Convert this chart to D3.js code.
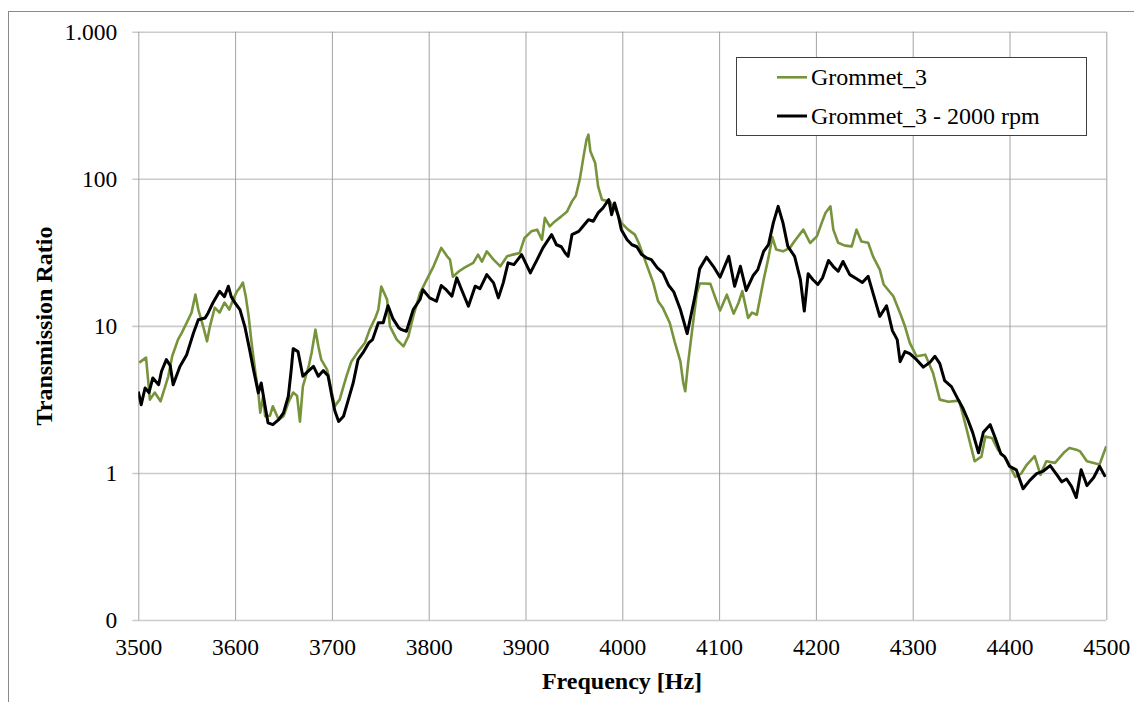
<!DOCTYPE html>
<html>
<head>
<meta charset="utf-8">
<script src="https://cdn.jsdelivr.net/npm/d3@7"></script>
<style>
  body { margin: 0; background: #fff; }
  svg { display: block; }
</style>
</head>
<body>
<svg id="chart" width="1134" height="702"></svg>
<script>
// Transmission ratio vs frequency (log y) — two grommet measurements
// ------------------------------------------------------------------

// Data --------------------------------------------------------------
const seriesNames = ["Grommet_3", "Grommet_3 - 2000 rpm"];

const freqGreen = [3501,3508,3512,3517,3523,3531,3535,3541,3545,3550,
  3555,3559,3562,3567,3571,3574,3579,3584,3589,3594,
  3598,3602,3605,3608,3611,3614,3617,3621,3624,3626,
  3629,3631,3636,3639,3645,3650,3655,3660,3664,3667,
  3670,3676,3679,3683,3686,3689,3695,3700,3703,3708,
  3715,3720,3727,3734,3739,3745,3748,3751,3757,3760,
  3767,3774,3779,3784,3791,3798,3805,3813,3819,3822,
  3825,3831,3837,3846,3851,3855,3860,3867,3874,3881,
  3887,3894,3899,3906,3912,3917,3920,3925,3930,3937,
  3943,3948,3952,3956,3960,3963,3965,3967,3972,3975,
  3979,3987,3994,3999,4006,4013,4017,4022,4027,4032,
  4037,4042,4049,4054,4060,4063,4065,4068,4072,4077,
  4080,4085,4091,4096,4101,4108,4115,4120,4124,4130,
  4134,4139,4146,4151,4155,4159,4166,4173,4179,4187,
  4194,4201,4206,4210,4215,4218,4223,4230,4237,4242,
  4247,4254,4259,4266,4270,4280,4287,4292,4297,4304,
  4313,4321,4328,4337,4348,4354,4361,4364,4371,4375,
  4382,4388,4397,4406,4412,4418,4426,4432,4438,4447,
  4456,4462,4469,4473,4480,4487,4493,4500];

const valGreen = [5.62,6.08,3.15,3.52,3.07,4.54,6.21,8.06,8.99,10.5,
  12.3,16.3,12.9,9.93,7.85,9.93,13.3,12.3,14.4,12.9,
  15.1,17.2,18.2,19.7,15.9,11.6,7.69,4.81,3.52,2.57,
  3.32,2.43,2.45,2.84,2.30,2.43,3.01,3.52,3.35,2.23,
  3.88,5.30,6.54,9.42,7.26,5.89,5.04,3.50,2.84,3.15,
  4.54,5.7,6.68,7.65,9.42,11.4,12.9,18.5,15.1,9.93,
  8.06,7.26,8.48,11.6,16.7,20.6,25.4,33.9,29.7,28.2,
  21.6,23.4,24.9,26.8,30.5,27.3,32.1,28.2,25.4,29.7,
  30.5,31.3,39.6,43.9,45.1,38.5,54.2,47.5,51.1,55.5,
  60.0,70.2,76.7,98.6,142,184,199.5,154,128,88.8,
  72.1,70.2,60.0,50.1,45.1,41.7,36.6,29.7,24.1,19.6,
  14.7,13.2,10.5,7.85,5.74,4.09,3.59,5.60,9.18,16.7,
  19.4,19.4,19.3,15.6,12.7,16.3,12.1,14.3,17.2,11.3,
  12.3,11.9,20.6,29.1,40.1,33.0,32.1,33.9,38.5,45.1,
  36.6,40.6,50.1,58.8,64.9,45.1,36.7,35.1,34.7,45.1,
  37.5,36.7,29.7,24.1,19.1,15.9,12.2,9.93,7.65,6.21,
  6.37,4.78,3.15,3.05,3.10,2.20,1.44,1.20,1.29,1.77,
  1.73,1.44,1.23,0.94,0.99,1.14,1.30,0.97,1.20,1.17,
  1.37,1.48,1.44,1.40,1.20,1.17,1.14,1.52];

const freqBlack = [3500,3503,3507,3511,3515,3521,3524,3529,3533,3536,
  3543,3550,3557,3562,3569,3572,3577,3584,3589,3593,
  3596,3600,3605,3610,3615,3619,3624,3627,3631,3634,
  3639,3645,3650,3655,3658,3660,3665,3670,3675,3681,
  3686,3691,3696,3700,3703,3707,3712,3717,3722,3727,
  3732,3738,3742,3748,3753,3758,3763,3769,3772,3777,
  3784,3791,3794,3801,3808,3813,3818,3824,3829,3834,
  3841,3848,3853,3860,3867,3872,3877,3882,3888,3896,
  3905,3912,3918,3927,3932,3937,3941,3944,3948,3955,
  3959,3965,3970,3975,3980,3986,3989,3992,3996,3999,
  4005,4010,4015,4020,4025,4030,4036,4042,4048,4053,
  4060,4063,4067,4070,4075,4080,4087,4094,4101,4110,
  4116,4122,4128,4135,4140,4146,4151,4156,4161,4166,
  4171,4178,4184,4188,4192,4197,4202,4207,4213,4218,
  4223,4228,4235,4242,4248,4254,4259,4266,4273,4279,
  4284,4287,4292,4297,4304,4311,4318,4323,4328,4333,
  4340,4347,4352,4357,4362,4368,4373,4380,4385,4391,
  4395,4400,4407,4414,4421,4428,4435,4442,4449,4454,
  4459,4464,4469,4474,4480,4487,4493,4499];

const valBlack = [3.57,2.91,3.78,3.52,4.42,3.98,4.91,5.89,5.36,3.98,
  5.30,6.37,8.95,11.0,11.3,12.2,14.3,17.2,15.8,18.6,
  15.8,14.3,12.9,9.93,6.89,5.04,3.50,4.09,2.84,2.19,
  2.13,2.30,2.56,3.32,5.04,7.00,6.68,4.54,4.88,5.30,
  4.54,4.96,4.59,3.32,2.65,2.24,2.43,3.15,4.09,5.89,
  6.54,7.65,8.06,10.5,10.5,13.7,11.2,9.72,9.42,9.18,
  12.9,15.1,17.6,15.5,14.7,18.8,17.6,15.9,21.2,17.6,
  13.6,18.6,17.9,22.3,19.6,15.5,19.6,26.8,26.1,30.5,
  22.9,28.2,33.9,41.7,35.6,34.5,31.3,29.7,41.7,43.9,
  47.2,52.7,51.4,58.6,63.3,72.1,57.0,68.5,55.5,45.1,
  38.5,35.6,34.5,30.5,29.0,28.2,24.9,22.9,18.8,17.1,
  12.9,11.0,8.85,11.0,15.8,24.5,29.3,25.4,21.4,29.7,
  18.6,25.4,17.4,21.9,24.1,32.1,35.6,50.1,64.9,50.1,
  34.7,29.7,20.6,12.6,22.6,20.6,19.1,21.3,27.8,25.3,
  23.5,27.4,22.3,20.9,19.7,21.7,16.7,11.6,13.7,9.28,
  8.06,5.71,6.68,6.47,5.89,5.24,5.67,6.21,5.53,4.24,
  3.86,3.15,2.74,2.30,1.88,1.37,1.89,2.13,1.75,1.35,
  1.29,1.11,1.05,0.78,0.89,0.99,1.03,1.12,0.97,0.87,
  0.91,0.81,0.68,1.05,0.82,0.93,1.11,0.94];

const xTicks      = [3500,3600,3700,3800,3900,4000,4100,4200,4300,4400,4500];
const yTicks      = [0.1, 1, 10, 100, 1000];
const yTickLabels = ["0", "1", "10", "100", "1.000"];

// Layout -------------------------------------------------------------
const FONT = "'Liberation Serif', 'Times New Roman', serif";

const margin = { top: 31.7, left: 138.3 },
      width  = 968,
      height = 588.3;

const svgBase = d3.select("#chart");

// outer frame (only its top/left edges are inside the picture)
svgBase.append("rect")
  .attr("x", 8.5).attr("y", 11.5)
  .attr("width", 1300).attr("height", 900)
  .attr("fill", "none")
  .attr("stroke", "#8a8a8a")
  .attr("stroke-width", 1);

const svg = svgBase.append("g")
  .attr("transform", `translate(${margin.left},${margin.top})`);

// Scales -------------------------------------------------------------
const x = d3.scaleLinear().domain([3500, 4500]).range([0, width]);
const y = d3.scaleLog().domain([0.1, 1000]).range([height, 0]);

// Y axis + horizontal grid ------------------------------------------
const yAxisG = svg.append("g").attr("class", "y-axis")
  .call(d3.axisLeft(y)
    .tickValues(yTicks)
    .tickFormat((d, i) => yTickLabels[i])
    .tickSize(6)
    .tickPadding(15))
  .attr("font-family", FONT)
  .attr("font-size", 23.5);

yAxisG.select(".domain").remove();
yAxisG.selectAll(".tick line")
  .attr("x1", -6).attr("x2", width)
  .attr("stroke", "#cbcbcb")
  .attr("stroke-width", 1.6);
yAxisG.selectAll(".tick text")
  .attr("fill", "#000")
  .style("font-family", FONT)
  .style("font-size", "23.5px");

// X axis + vertical grid --------------------------------------------
const xAxisG = svg.append("g").attr("class", "x-axis")
  .attr("transform", `translate(0,${height})`)
  .call(d3.axisBottom(x)
    .tickValues(xTicks)
    .tickFormat(d3.format("d"))
    .tickSize(-height)
    .tickPadding(18))
  .attr("font-family", FONT)
  .attr("font-size", 23.5);

xAxisG.select(".domain").remove();
xAxisG.selectAll(".tick line")
  .attr("stroke", "#a3a3a3")
  .attr("stroke-width", 1);
xAxisG.selectAll(".tick text")
  .attr("fill", "#000")
  .style("font-family", FONT)
  .style("font-size", "23.5px");

// Lines --------------------------------------------------------------
svg.append("clipPath").attr("id", "plot-clip")
  .append("rect").attr("width", width).attr("height", height);

const line = d3.line()
  .x(d => x(d.f))
  .y(d => y(d.v));

const series = [
  { name: seriesNames[0], color: "#77933c", w: 2.6,
    pts: freqGreen.map((f, i) => ({ f, v: valGreen[i] })) },
  { name: seriesNames[1], color: "#000000", w: 3,
    pts: freqBlack.map((f, i) => ({ f, v: valBlack[i] })) }
];

svg.append("g").attr("clip-path", "url(#plot-clip)")
  .selectAll("path")
  .data(series)
  .join("path")
    .attr("d", d => line(d.pts))
    .attr("fill", "none")
    .attr("stroke", d => d.color)
    .attr("stroke-width", d => d.w)
    .attr("stroke-linejoin", "round");

// Axis titles --------------------------------------------------------
svgBase.append("text")
  .attr("transform", "translate(52,326) rotate(-90)")
  .attr("text-anchor", "middle")
  .style("font-family", FONT)
  .style("font-size", "24px")
  .style("font-weight", "bold")
  .text("Transmission Ratio");

svgBase.append("text")
  .attr("x", 622).attr("y", 689)
  .attr("text-anchor", "middle")
  .style("font-family", FONT)
  .style("font-size", "24px")
  .style("font-weight", "bold")
  .text("Frequency [Hz]");

// Legend -------------------------------------------------------------
const legend = svgBase.append("g").attr("class", "legend");

legend.append("rect")
  .attr("x", 736.5).attr("y", 57.5)
  .attr("width", 350).attr("height", 78)
  .attr("fill", "#fff")
  .attr("stroke", "#404040")
  .attr("stroke-width", 1);

const lg = legend.selectAll("g.item")
  .data(series)
  .join("g")
    .attr("class", "item")
    .attr("transform", (d, i) => `translate(777,${77.3 + i * 38.7})`);

lg.append("line")
  .attr("x1", 0).attr("x2", 30)
  .attr("stroke", d => d.color)
  .attr("stroke-width", d => d.w);

lg.append("text")
  .attr("x", 34).attr("y", 8)
  .style("font-family", FONT)
  .style("font-size", "24px")
  .text(d => d.name);
</script>
</body>
</html>
